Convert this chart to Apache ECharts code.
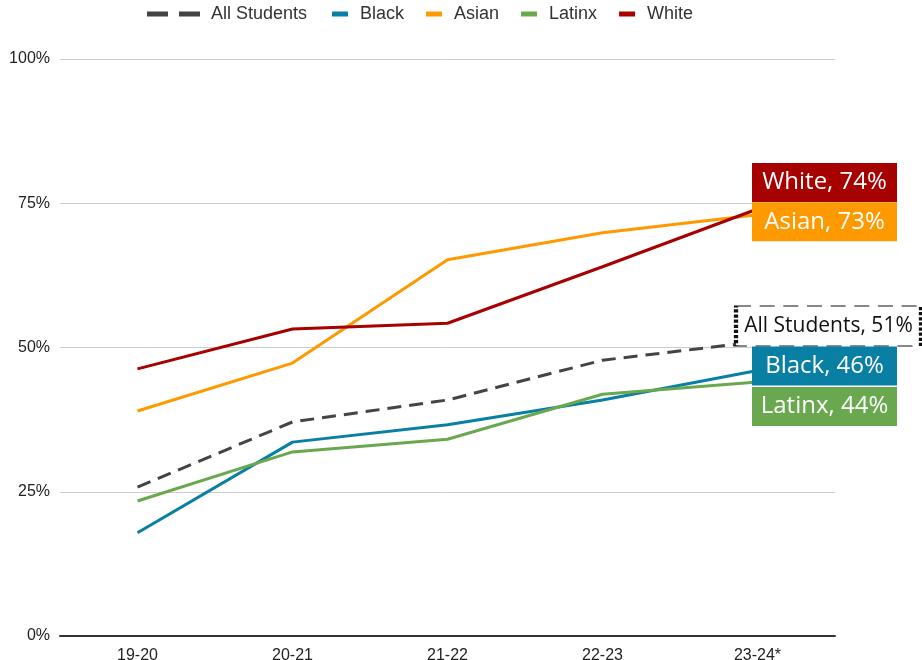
<!DOCTYPE html>
<html><head><meta charset="utf-8">
<script src="https://cdn.jsdelivr.net/npm/echarts@6/dist/echarts.min.js"></script>
<style>html,body{margin:0;padding:0;background:#fff}#c{width:922px;height:660px}</style>
</head><body><div id="c"></div>
<script>
const categories = ['19-20', '20-21', '21-22', '22-23', '23-24*'];
const allStudents = [25.8, 37.1, 40.9, 47.8, 51];
const black = [17.9, 33.6, 36.6, 40.9, 46];
const asian = [39.0, 47.3, 65.2, 69.9, 73];
const latinx = [23.4, 31.9, 34.1, 41.9, 44];
const white = [46.3, 53.2, 54.2, 64.0, 74];
const yTicks = [0, 25, 50, 75, 100];

const names = ['All Students', 'Black', 'Asian', 'Latinx', 'White'];
const values = [allStudents, black, asian, latinx, white];
const colors = ['#444444', '#0A7FA4', '#FF9900', '#6AA84F', '#A60000'];
const boxOffsets = [[71, -15.7], [67, -4.6], [67, 7], [67, 24.4], [67, -26.5]];
const boxSizes = [[185, 40], [145, 39], [145, 39], [145, 39], [145, 39]];

const series = names.map((n, i) => {
  const d = values[i];
  const last = d.length - 1;
  const isAll = i === 0;
  return {
    name: n, type: 'line', data: d, symbol: 'none', smooth: false,
    lineStyle: { color: colors[i], width: 3, type: isAll ? [14, 8] : 'solid' },
    itemStyle: { color: colors[i] },
    z: isAll ? 3 : 2,
    markPoint: {
      silent: true, animation: false,
      data: [{
        coord: [last, d[last]],
        symbol: 'rect', symbolSize: boxSizes[i], symbolOffset: boxOffsets[i],
        itemStyle: isAll
          ? { color: '#fff', borderColor: '#111', borderWidth: 2, borderType: [7, 4] }
          : { color: colors[i] },
        label: {
          show: true, position: 'inside',
          formatter: n + ', ' + Math.round(d[last]) + '%',
          color: isAll ? '#111' : '#fff',
          fontSize: isAll ? 21 : 24, fontFamily: 'Open Sans'
        }
      }]
    }
  };
});

const chart = echarts.init(document.getElementById('c'));
chart.setOption({
  animation: false,
  backgroundColor: '#fff',
  legend: [
    { data: [{ name: 'All Students', icon: 'path://M0,0H21V5H0Z M32,0H53V5H32Z' }],
      left: 147, top: 5, padding: 0, itemWidth: 53, itemHeight: 5, itemGap: 23,
      textStyle: { fontSize: 18, color: '#333', fontFamily: 'Liberation Sans', padding: [0, 0, 0, 6] } },
    { data: names.slice(1).map(n => ({ name: n, icon: 'rect' })),
      left: 332, top: 5, padding: 0, itemWidth: 16, itemHeight: 5, itemGap: 22,
      textStyle: { fontSize: 18, color: '#333', fontFamily: 'Liberation Sans', padding: [0, 0, 0, 7] } }
  ],
  grid: { left: 60, right: 87, top: 59, bottom: 24, containLabel: false, outerBoundsMode: 'none' },
  xAxis: {
    type: 'category', data: categories, boundaryGap: true,
    axisLine: { lineStyle: { color: '#333', width: 2 } },
    axisTick: { show: false },
    axisLabel: { fontSize: 16, color: '#222', fontFamily: 'Liberation Sans', margin: 12 }
  },
  yAxis: {
    type: 'value', min: yTicks[0], max: yTicks[yTicks.length - 1], interval: 25,
    axisLine: { show: false }, axisTick: { show: false },
    axisLabel: { formatter: '{value}%', fontSize: 16, color: '#222', fontFamily: 'Liberation Sans', margin: 10 },
    splitLine: { lineStyle: { color: '#cccccc', width: 1 } }
  },
  series
});
</script></body></html>
